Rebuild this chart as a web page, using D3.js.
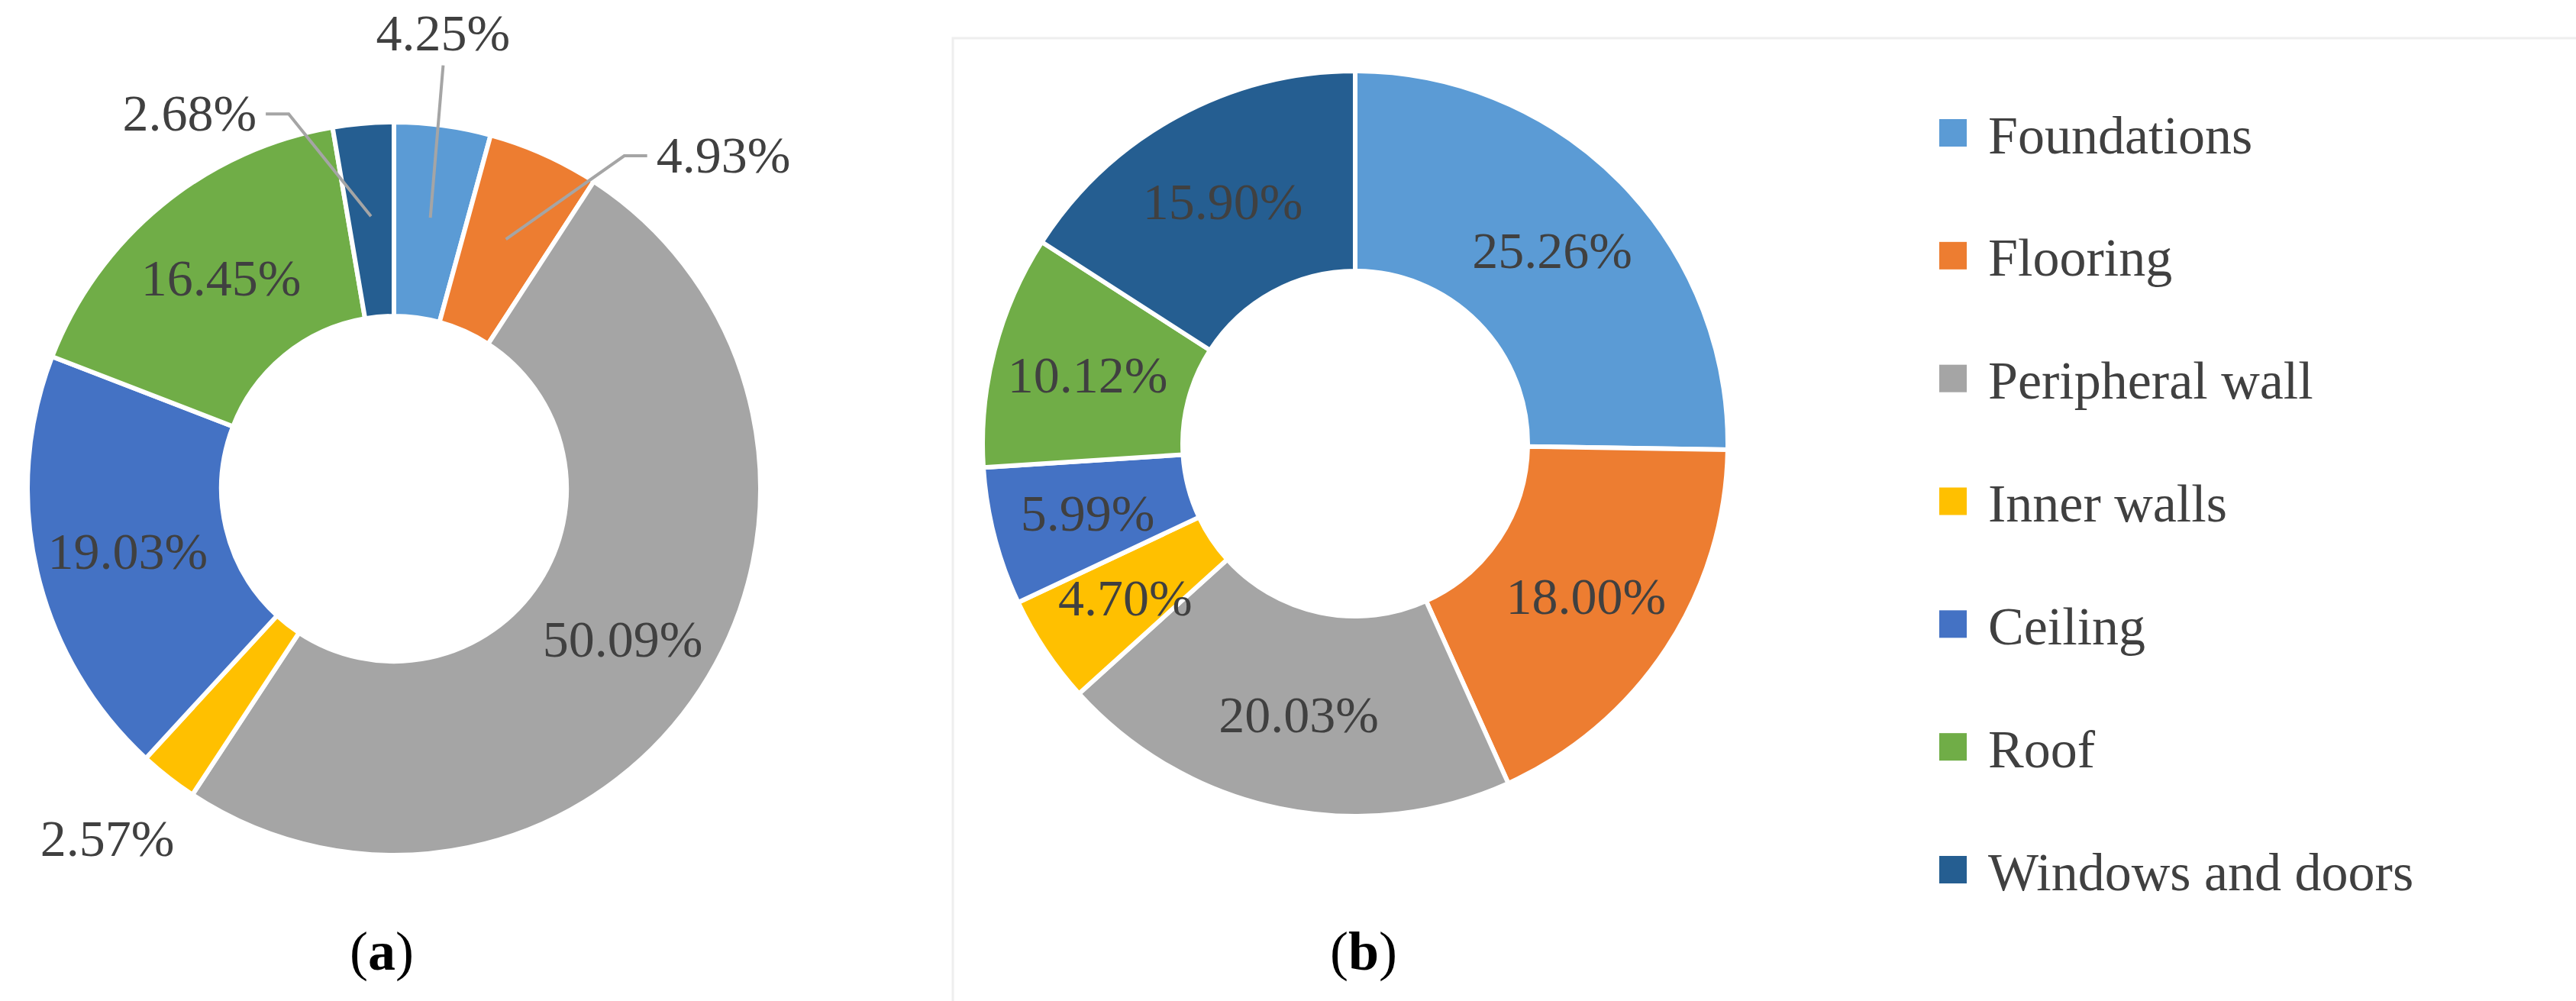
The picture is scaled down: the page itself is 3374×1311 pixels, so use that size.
<!DOCTYPE html>
<html><head><meta charset="utf-8">
<script src="https://cdn.jsdelivr.net/npm/d3@7"></script>
<style>body{margin:0;background:#fff}svg{display:block}</style>
</head><body>
<svg id="chart" width="3374" height="1311"></svg>
<script>
const categories = ["Foundations", "Flooring", "Peripheral wall", "Inner walls", "Ceiling", "Roof", "Windows and doors"];
const valuesA = [4.25, 4.93, 50.09, 2.57, 19.03, 16.45, 2.68];
const valuesB = [25.26, 18.00, 20.03, 4.70, 5.99, 10.12, 15.90];
const colors = ["#5B9BD5", "#ED7D31", "#A5A5A5", "#FFC000", "#4472C4", "#70AD47", "#255E91"];
const panelLabels = ["(a)", "(b)"];
// outside labels for chart (a): index -> [angle deg, radius, anchor, leader]
const outsideA = {0: [6.4, 578, "middle", true], 1: [39.7, 538, "start", true], 6: [-21, 502, "end", true], 3: [218, 610, "middle", false]};

const svg = d3.select("#chart");
const font = "'Liberation Serif', 'DejaVu Serif', serif";
const color = d3.scaleOrdinal().domain(categories).range(colors);

// faint panel frame around (b)
svg.append("path").attr("d", "M1248,1311 L1248,50 L3374,50").attr("fill", "none").attr("stroke", "#eeeeee").attr("stroke-width", 3);

function donut(values, cx, cy, r0, r1, outside) {
  const g = svg.append("g").attr("transform", `translate(${cx},${cy})`);
  const pie = d3.pie().sort(null).value(d => d.v);
  const arcs = pie(values.map((v, i) => ({v, c: categories[i], i})));
  const arc = d3.arc().innerRadius(r0).outerRadius(r1);
  g.selectAll("path.slice").data(arcs).join("path").attr("class", "slice")
    .attr("d", arc).attr("fill", d => color(d.data.c))
    .attr("stroke", "#fff").attr("stroke-width", 6);
  const mid = d3.arc().innerRadius((r0 + r1) / 2 + 5).outerRadius((r0 + r1) / 2 + 5);
  arcs.forEach(d => {
    const txt = d.data.v.toFixed(2) + "%";
    const o = outside && outside[d.data.i];
    if (o) {
      const a = o[0] * Math.PI / 180;
      const x = Math.sin(a) * o[1], y = -Math.cos(a) * o[1];
      if (o[3]) {
        const c = mid.centroid(d);
        const ex = o[2] === "start" ? x - 12 : o[2] === "end" ? x + 12 : x;
        const ey = o[2] === "middle" ? y + 20 : y - 22;
        let pts = `${c[0]},${c[1]} ${ex},${ey}`;
        if (o[2] === "end") pts = `${c[0]},${c[1]} ${ex + 30},${ey} ${ex},${ey}`;
        if (o[2] === "start") pts = `${c[0]},${c[1]} ${ex - 30},${ey} ${ex},${ey}`;
        g.append("polyline").attr("points", pts)
          .attr("fill", "none").attr("stroke", "#a5a5a5").attr("stroke-width", 4);
      }
      g.append("text").attr("x", x).attr("y", y).attr("text-anchor", o[2])
        .attr("font-family", font).attr("font-size", 68).attr("fill", "#404040").text(txt);
    } else {
      const c = mid.centroid(d);
      g.append("text").attr("x", c[0]).attr("y", c[1]).attr("dy", "0.35em").attr("text-anchor", "middle")
        .attr("font-family", font).attr("font-size", 68).attr("fill", "#404040").text(txt);
    }
  });
}

donut(valuesA, 516, 640, 226, 480, outsideA);
donut(valuesB, 1775, 581, 226, 488, null);

// panel labels
[[500, panelLabels[0]], [1786, panelLabels[1]]].forEach(([x, t]) => {
  const tx = svg.append("text").attr("x", x).attr("y", 1270).attr("text-anchor", "middle")
    .attr("font-family", font).attr("font-size", 72).attr("fill", "#000");
  tx.append("tspan").text("(");
  tx.append("tspan").attr("font-weight", "bold").text(t.slice(1, 2));
  tx.append("tspan").text(")");
});

// legend
const ly = d3.scalePoint().domain(categories).range([176, 1141]);
const lg = svg.append("g");
lg.selectAll("rect").data(categories).join("rect")
  .attr("x", 2540).attr("y", d => ly(d) - 20).attr("width", 36).attr("height", 36).attr("fill", d => color(d));
lg.selectAll("text").data(categories).join("text")
  .attr("x", 2604).attr("y", d => ly(d)).attr("dy", "0.35em")
  .attr("font-family", font).attr("font-size", 70).attr("fill", "#404040").text(d => d);
</script>
</body></html>
